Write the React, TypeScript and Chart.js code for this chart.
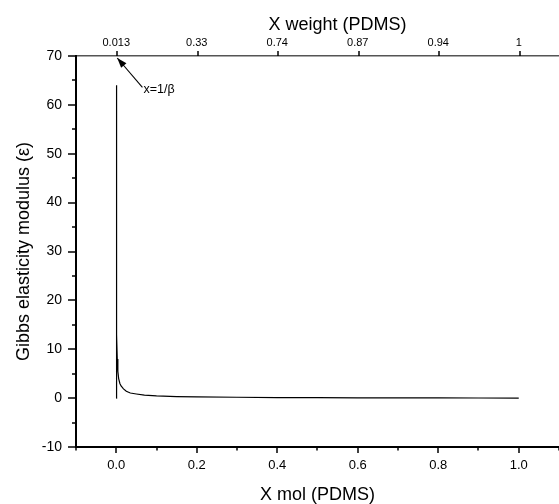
import { useEffect, useRef } from 'react';
import { Chart, registerables } from 'chart.js';
Chart.register(...registerables);

const FONT = "'Liberation Sans', Arial, sans-serif";

// Series: X mol (PDMS) vs Gibbs elasticity modulus (ε)
const xMol = [0, 0.0002, 0.0005, 0.001, 0.0015, 0.0025, 0.004, 0.006, 0.009, 0.012, 0.018, 0.025, 0.035, 0.05, 0.07, 0.1, 0.15, 0.2, 0.3, 0.4, 0.5, 0.6, 0.7, 0.8, 0.9, 1.0];
const gibbs = [0, 64, 40, 20, 13, 8, 5.5, 4.0, 3.0, 2.5, 1.9, 1.4, 1.05, 0.85, 0.62, 0.45, 0.32, 0.26, 0.18, 0.12, 0.09, 0.07, 0.05, 0.04, 0.03, 0.02];

// Axes
const yTicks = [-10, 0, 10, 20, 30, 40, 50, 60, 70];
const yMinorTicks = [-5, 5, 15, 25, 35, 45, 55, 65];
const xTicks = [0, 0.2, 0.4, 0.6, 0.8, 1.0];
const xMinorTicks = [-0.1, 0.1, 0.3, 0.5, 0.7, 0.9, 1.1];
const topTickPositions = [0, 0.2, 0.4, 0.6, 0.8, 1.0];
const topTickLabels = ['0.013', '0.33', '0.74', '0.87', '0.94', '1'];

// Annotation
const arrowTip = { x: 0, y: 70 };
const arrowTail = { x: 0.065, y: 63.6 };
const annotationText = 'x=1/\u03b2';
const topTitle = 'X weight (PDMS)';

const decor = {
  id: 'decor',
  afterDraw(chart: any) {
    const { ctx, scales, chartArea } = chart;
    const x = scales.x, y = scales.y;
    ctx.save();
    ctx.strokeStyle = '#000';
    ctx.lineWidth = 1.5;
    const seg = (a: number, b: number, c: number, d: number) => {
      ctx.beginPath(); ctx.moveTo(a, b); ctx.lineTo(c, d); ctx.stroke();
    };
    const L = chartArea.left, B = chartArea.bottom, T = chartArea.top;
    yTicks.forEach(v => { const p = Math.round(y.getPixelForValue(v)); seg(L - 8, p, L, p); });
    yMinorTicks.forEach(v => { const p = Math.round(y.getPixelForValue(v)); seg(L - 4, p, L, p); });
    xTicks.forEach(v => { const p = Math.round(x.getPixelForValue(v)); seg(p, B, p, B + 6); });
    xMinorTicks.forEach(v => { const p = Math.round(x.getPixelForValue(v)); seg(p, B, p, B + 3.5); });
    topTickPositions.forEach(v => { const p = Math.round(scales.x2.getPixelForValue(v)) + 1; seg(p, T, p, T - 5); });

    // arrow
    const tx = x.getPixelForValue(arrowTip.x) + 1, ty = y.getPixelForValue(arrowTip.y) + 2;
    const sx = x.getPixelForValue(arrowTail.x), sy = y.getPixelForValue(arrowTail.y);
    ctx.lineWidth = 1.1;
    seg(sx, sy, tx, ty);
    const ang = Math.atan2(ty - sy, tx - sx);
    const hl = 10, hw = 3.5;
    ctx.fillStyle = '#000';
    ctx.beginPath();
    ctx.moveTo(tx, ty);
    ctx.lineTo(tx - hl * Math.cos(ang) + hw * Math.sin(ang), ty - hl * Math.sin(ang) - hw * Math.cos(ang));
    ctx.lineTo(tx - hl * Math.cos(ang) - hw * Math.sin(ang), ty - hl * Math.sin(ang) + hw * Math.cos(ang));
    ctx.closePath();
    ctx.fill();

    ctx.font = `12.5px ${FONT}`;
    ctx.textAlign = 'left';
    ctx.textBaseline = 'middle';
    ctx.fillText(annotationText, sx + 1, sy + 2);

    // top axis title
    ctx.font = `18px ${FONT}`;
    ctx.textAlign = 'center';
    ctx.textBaseline = 'middle';
    ctx.fillText(topTitle, (chartArea.left + chartArea.right) / 2 + 20, 25);
    ctx.restore();
  },
};

export default function App() {
  const ref = useRef<HTMLCanvasElement>(null);
  useEffect(() => {
    if (!ref.current) return;
    const chart = new Chart(ref.current, {
      type: 'scatter',
      data: {
        datasets: [{
          data: xMol.map((v, i) => ({ x: v, y: gibbs[i] })),
          showLine: true,
          borderColor: '#000',
          borderWidth: 1.2,
          pointRadius: 0,
          tension: 0,
          xAxisID: 'x',
          yAxisID: 'y',
        }],
      },
      plugins: [decor],
      options: {
        animation: false,
        responsive: false,
        layout: { padding: 0 },
        plugins: { legend: { display: false }, tooltip: { enabled: false } },
        scales: {
          x: {
            type: 'linear',
            position: 'bottom',
            min: -0.1,
            max: 1.1,
            afterBuildTicks: (s: any) => { s.ticks = xTicks.map(v => ({ value: v })); },
            afterFit: (s: any) => { s.height = 57; },
            ticks: {
              color: '#000',
              font: { family: FONT, size: 13 },
              padding: 4,
              maxRotation: 0,
              autoSkip: false,
              callback: (v: any) => Number(v).toFixed(1),
            },
            grid: { display: true, drawOnChartArea: false, drawTicks: true, tickLength: 7, tickColor: 'rgba(0,0,0,0)' },
            border: { display: true, color: '#000', width: 2 },
            title: {
              display: true,
              text: 'X mol (PDMS)',
              color: '#000',
              font: { family: FONT, size: 18, lineHeight: 1 },
              padding: { top: 0, bottom: 0 },
            },
          },
          x2: {
            type: 'linear',
            position: 'top',
            min: -0.1,
            max: 1.1,
            afterBuildTicks: (s: any) => { s.ticks = topTickPositions.map(v => ({ value: v })); },
            afterFit: (s: any) => { s.height = 56; },
            ticks: {
              color: '#000',
              font: { family: FONT, size: 11 },
              padding: 1,
              maxRotation: 0,
              autoSkip: false,
              callback: (_v: any, i: number) => topTickLabels[i],
            },
            grid: { display: true, drawOnChartArea: false, drawTicks: true, tickLength: 5, tickColor: 'rgba(0,0,0,0)' },
            border: { display: true, color: '#555', width: 1.5 },
          },
          y: {
            type: 'linear',
            position: 'left',
            min: -10,
            max: 70,
            afterBuildTicks: (s: any) => { s.ticks = yTicks.map(v => ({ value: v })); },
            afterFit: (s: any) => { s.width = 76; },
            ticks: {
              color: '#000',
              font: { family: FONT, size: 14 },
              padding: 6,
              autoSkip: false,
              callback: (v: any) => String(v),
            },
            grid: { display: true, drawOnChartArea: false, drawTicks: true, tickLength: 8, tickColor: 'rgba(0,0,0,0)' },
            border: { display: true, color: '#000', width: 2 },
            title: {
              display: true,
              text: 'Gibbs elasticity modulus (\u03b5)',
              color: '#000',
              font: { family: FONT, size: 18, lineHeight: 1 },
              padding: { top: 15, bottom: 0 },
            },
          },
        },
      },
    } as any);
    return () => chart.destroy();
  }, []);
  return (
    <div style={{ position: 'absolute', left: 0, top: 0, width: 559, height: 504, overflow: 'hidden', background: '#fff' }}>
      <canvas ref={ref} width={559} height={504} style={{ display: 'block' }} />
    </div>
  );
}
